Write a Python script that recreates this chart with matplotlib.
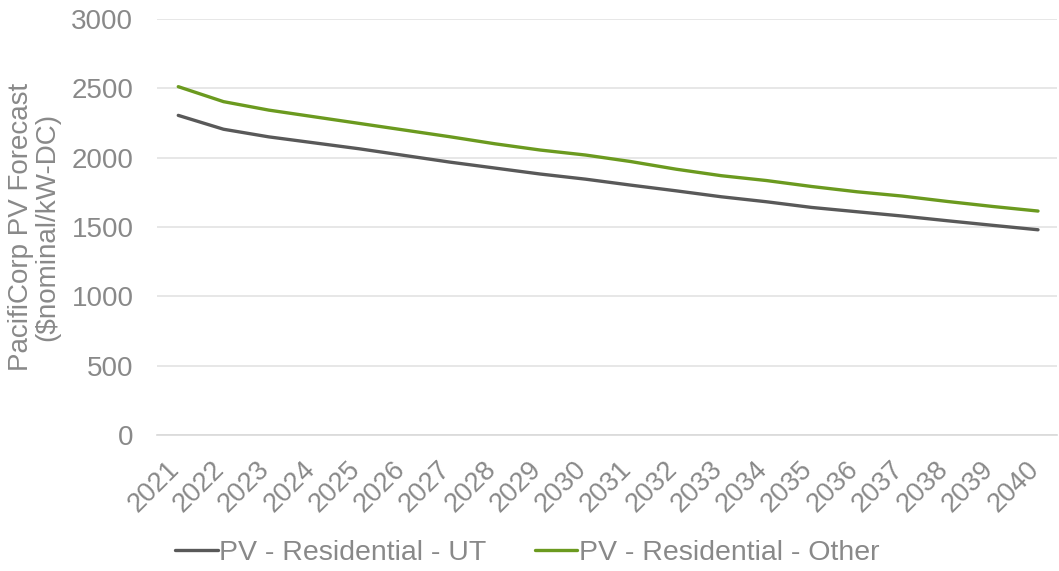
import matplotlib
matplotlib.use("Agg")
import matplotlib.pyplot as plt
import matplotlib.transforms as mtransforms

years = [str(y) for y in range(2021, 2041)]
ut = [2305, 2205, 2150, 2107, 2064, 2016, 1968, 1925, 1882, 1845,
      1802, 1761, 1718, 1682, 1641, 1610, 1579, 1545, 1512, 1480]
other = [2512, 2404, 2343, 2295, 2247, 2199, 2151, 2100, 2055, 2019,
         1972, 1917, 1870, 1835, 1792, 1754, 1723, 1684, 1648, 1615]
yticks = [0, 500, 1000, 1500, 2000, 2500, 3000]

plt.rcParams['font.family'] = ['Liberation Sans', 'DejaVu Sans']
gray = '#898989'

fig = plt.figure(figsize=(10.59, 5.71), dpi=100)
ax = fig.add_axes([157/1059, 1-435/571, (1057-157)/1059, (435-19)/571])
x = list(range(len(years)))
ax.plot(x, ut, color='#595959', lw=2.4, label='PV - Residential - UT', solid_capstyle='round')
ax.plot(x, other, color='#6B9A1F', lw=2.4, label='PV - Residential - Other', solid_capstyle='round')

ax.set_ylim(0, 3000)
ax.set_xlim(-0.47, 19.42)
ax.set_yticks(yticks)
ax.set_yticklabels([str(v) for v in yticks], fontsize=20, color=gray)
ax.set_xticks(x)
ax.set_xticklabels(years, rotation=45, ha='right', va='center', rotation_mode='anchor',
                   fontsize=19.5, color=gray)
ax.tick_params(axis='y', length=0, pad=17)
ax.tick_params(axis='x', length=0, pad=22)
offset = mtransforms.ScaledTranslation(-3/100, 0, fig.dpi_scale_trans)
for lbl in ax.get_xticklabels():
    lbl.set_transform(lbl.get_transform() + offset)
ax.grid(axis='y', color='#E3E3E3', lw=1.2)
ax.set_axisbelow(True)
for s in ['top', 'right', 'left']:
    ax.spines[s].set_visible(False)
ax.spines['bottom'].set_color('#D9D9D9')
ax.spines['bottom'].set_linewidth(1.2)

ax.set_ylabel('PacifiCorp PV Forecast\n($nominal/kW-DC)', fontsize=20, color=gray, labelpad=8, linespacing=1.0)

leg = fig.legend(loc='center', bbox_to_anchor=(527/1059, 1-553/571), ncol=2, frameon=False,
                 fontsize=20.5, labelcolor=gray, handlelength=1.5, handletextpad=0.05,
                 columnspacing=1.7)
fig.savefig('out.png', dpi=100)
